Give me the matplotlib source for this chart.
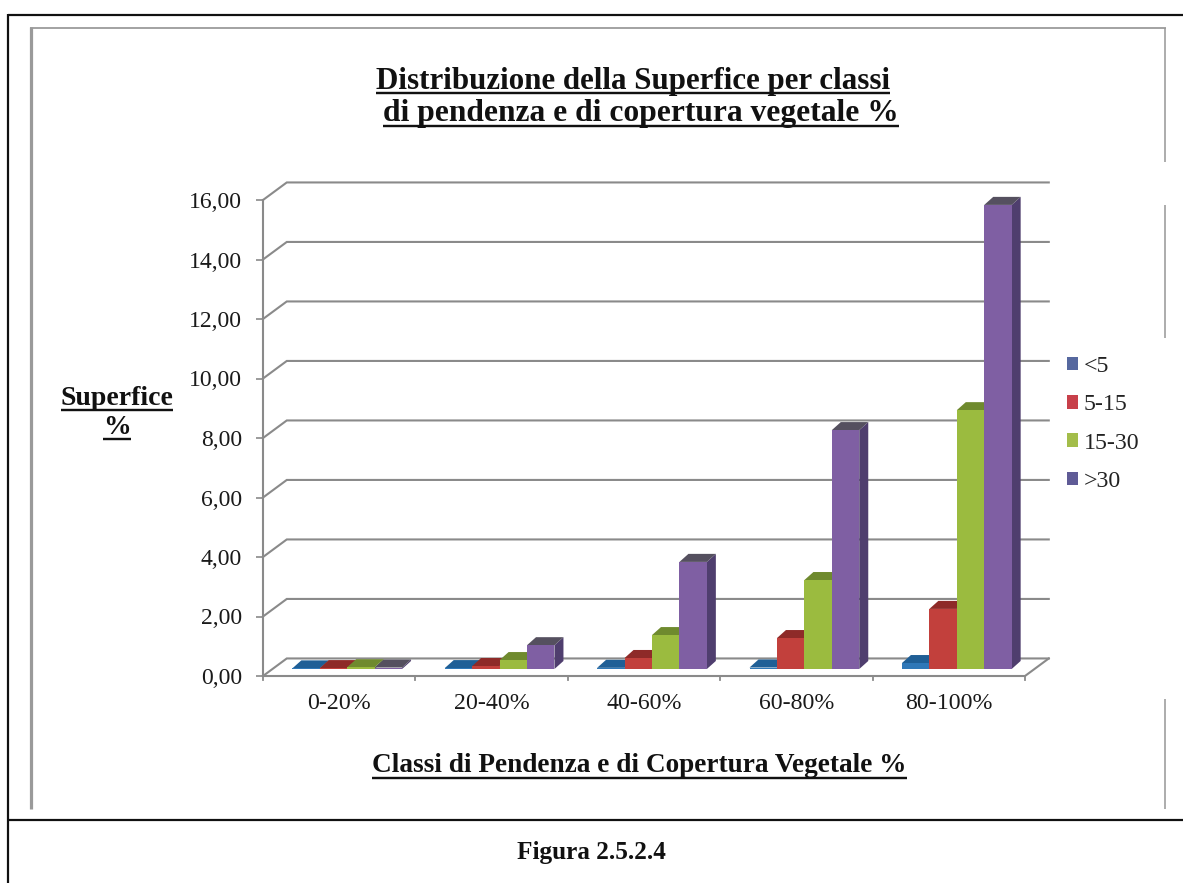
import matplotlib
matplotlib.use("Agg")
import matplotlib.pyplot as plt
from matplotlib.lines import Line2D
from matplotlib.patches import Patch, Polygon

# Data: surface share (%) per slope class within each vegetation-cover class
categories = ["0-20%", "20-40%", "40-60%", "60-80%", "80-100%"]
series_names = ["<5", "5-15", "15-30", ">30"]
under_5 = [0.02, 0.03, 0.04, 0.05, 0.20]
from_5_to_15 = [0.03, 0.10, 0.37, 1.04, 2.02]
from_15_to_30 = [0.06, 0.30, 1.14, 2.99, 8.70]
over_30 = [0.05, 0.80, 3.60, 8.03, 15.60]
y_ticks = [0, 2, 4, 6, 8, 10, 12, 14, 16]
y_tick_labels = ["0,00", "2,00", "4,00", "6,00", "8,00", "10,00", "12,00", "14,00", "16,00"]

series_values = [under_5, from_5_to_15, from_15_to_30, over_30]
front_colors = ["#2f78b8", "#c2403c", "#9bbb3f", "#7f5fa3"]
side_colors = ["#1c5a8c", "#97302e", "#76903a", "#4f3e6e"]
top_colors = ["#1f5f96", "#8e2a28", "#6f8a2e", "#55505f"]
legend_colors = ["#56689f", "#c8404a", "#a3bd4a", "#5f5b96"]

GRID = "#8a8a8a"
SERIF = "Liberation Serif"
W, H = 1183, 883

fig = plt.figure(figsize=(W / 100, H / 100), dpi=100, facecolor="white")


def fx(px):
    return px / W


def fy(py):
    return 1 - py / H


# Document table rules and the grey outline around the embedded chart
def rule(x0, y0, x1, y1, color="black", lw=2.0):
    fig.add_artist(Line2D([fx(x0), fx(x1)], [fy(y0), fy(y1)], color=color,
                          lw=lw * 0.72, solid_capstyle="butt"))


rule(8, 15, W, 15, "#111111", 2.2)
rule(8, 14, 8, H, "#111111", 2.2)
rule(8, 820, W, 820, "#111111", 2.2)
rule(31, 27, 31, 809, "#9a9a9a", 3.2)
rule(30, 28, 1166, 28, "#9a9a9a", 1.8)
for y0, y1 in [(28, 162), (205, 338), (699, 809)]:
    rule(1165, y0, 1165, y1, "#9a9a9a", 1.6)

# Plot area: x in category units, y in percent
ax = fig.add_axes([fx(263), fy(676), 762 / W, 476 / H])
ax.patch.set_visible(False)

# Oblique projection of the chart's depth, in data units
WALL_DX, WALL_DY = 0.156, 0.59
BAR_DX, BAR_DY = 0.059, 0.27
BAR_X0, BAR_BASE = 0.0525, 0.235
GROUP_W = 0.72
BAR_W = GROUP_W / len(series_values)
n = len(categories)

# Back-wall gridlines with their diagonal returns to the value axis
for v in y_ticks:
    ax.plot([0, WALL_DX, n + WALL_DX], [v, v + WALL_DY, v + WALL_DY],
            color=GRID, lw=1.5, clip_on=False, zorder=1, solid_joinstyle="miter")

# Floor front edge, right edge and category ticks
ax.plot([0, n, n + WALL_DX], [0, 0, WALL_DY], color=GRID, lw=1.5, clip_on=False, zorder=1)
for c in range(n + 1):
    ax.plot([c, c], [0, -0.15], color=GRID, lw=1.3, clip_on=False, zorder=1)

# Value axis
for side in ["top", "right", "bottom"]:
    ax.spines[side].set_visible(False)
ax.spines["left"].set_color(GRID)
ax.spines["left"].set_linewidth(1.5)
ax.set_xticks([])
ax.set_yticks(y_ticks, y_tick_labels)
ax.tick_params(axis="y", length=5, width=1.2, color=GRID, pad=10, labelcolor="#1a1a1a",
               labelsize=17)
for lab in ax.get_yticklabels():
    lab.set_fontfamily(SERIF)

# Bars: front face from ax.bar, side and top faces projected from the same value
for c in range(n):
    for s, values in enumerate(series_values):
        v = values[c]
        x0 = c + BAR_X0 + (1 - GROUP_W) / 2 + s * BAR_W
        x1 = x0 + BAR_W
        top = BAR_BASE + v
        z = 3 + c * 0.1 + s * 0.01
        ax.add_patch(Polygon([(x1, BAR_BASE), (x1 + BAR_DX, BAR_BASE + BAR_DY),
                              (x1 + BAR_DX, top + BAR_DY), (x1, top)],
                             closed=True, fc=side_colors[s], ec="none",
                             clip_on=False, zorder=z))
        ax.add_patch(Polygon([(x0, top), (x0 + BAR_DX, top + BAR_DY),
                              (x1 + BAR_DX, top + BAR_DY), (x1, top)],
                             closed=True, fc=top_colors[s], ec="none",
                             clip_on=False, zorder=z))
        ax.bar(x0, v, width=BAR_W, bottom=BAR_BASE, align="edge",
               color=front_colors[s], clip_on=False, zorder=z)
ax.set_xlim(0, n)
ax.set_ylim(0, 16)

# Category labels under the floor
for c, name in enumerate(categories):
    ax.text(c + 0.5, -0.91, name, ha="center", va="center", family=SERIF,
            fontsize=17.2, color="#1a1a1a", clip_on=False)

# Legend
handles = [Patch(fc=col, ec="none", label=name)
           for col, name in zip(legend_colors, series_names)]
leg = ax.legend(handles=handles, loc="center left", bbox_to_anchor=(fx(1067), fy(424)),
                bbox_transform=fig.transFigure, frameon=False, borderpad=0, borderaxespad=0,
                handlelength=0.48, handleheight=0.48, handletextpad=0.22, labelspacing=0.72,
                prop={"family": SERIF, "size": 17.2})
for t in leg.get_texts():
    t.set_color("#222222")


# Bold, underlined captions placed in image pixels
def caption(text, cx, cy, size, underline_y=None, color="#111111"):
    t = fig.text(fx(cx), fy(cy), text, ha="center", va="center", family=SERIF,
                 fontweight="bold", fontsize=size, color=color)
    if underline_y is not None:
        box = t.get_window_extent(fig.canvas.get_renderer())
        rule(box.x0, underline_y, box.x1, underline_y, color, 2.4)
    return t


caption("Distribuzione della Superfice per classi", 633, 81, 22.3, 93)
caption("di pendenza e di copertura vegetale %", 641, 114, 22.7, 126)
caption("Classi di Pendenza e di Copertura Vegetale %", 639.5, 766, 19.6, 778)
caption("Superfice", 117, 398, 20, 410)
caption("%", 117, 427, 20, 439)
caption("Figura 2.5.2.4", 591, 853, 18.2)

fig.savefig("out.png", dpi=100, facecolor="white")
